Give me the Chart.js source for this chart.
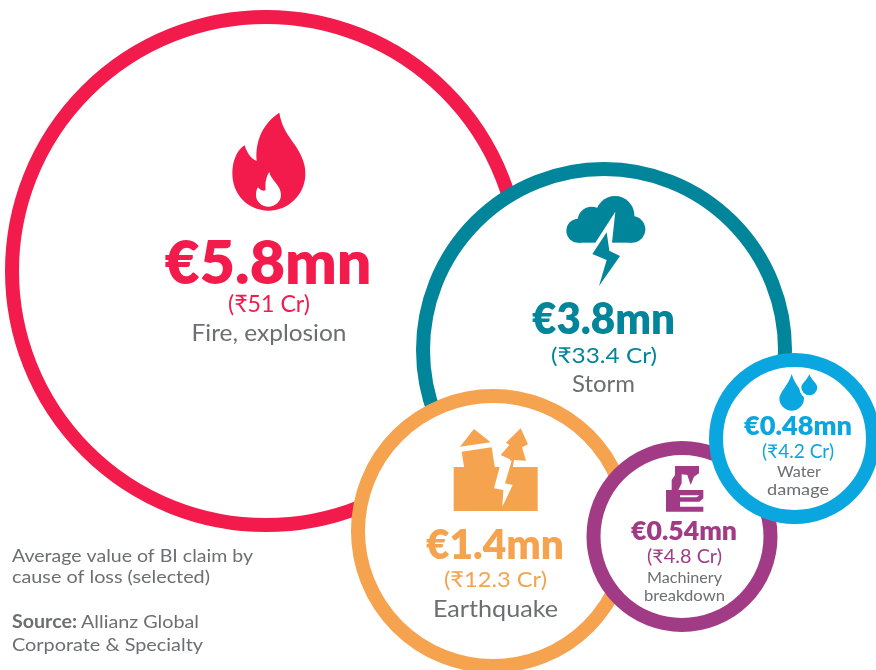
<!DOCTYPE html>
<html><head><meta charset="utf-8">
<style>html,body{margin:0;padding:0;background:#fff}#w{position:relative;width:876px;height:670px}</style>
<script src="https://cdn.jsdelivr.net/npm/chart.js@4"></script></head>
<body><div id="w"><canvas id="c" width="876" height="670"></canvas></div>
<script>
const categories = ["Fire, explosion","Storm","Earthquake","Machinery breakdown","Water damage"];
const claimLabels = ["€5.8mn","€3.8mn","€1.4mn","€0.54mn","€0.48mn"];
const rupeeLabels = ["(₹51 Cr)","(₹33.4 Cr)","(₹12.3 Cr)","(₹4.8 Cr)","(₹4.2 Cr)"];
const bubbleX = [266,604,493,682,794.5];
const bubbleY = [271,350,531,536.5,438.5];
const bubbleR = [254,181,135,88.5,78.5];
const colours = ["#f21b4b","#00859b","#f5a34f","#a23b85","#0aa6df"];
const GREY = "#6d6e71";
const FONT = '"Lato","Noto Sans",sans-serif';

function fit(ctx,text,cx,base,size,weight,width,color){
  ctx.save();
  ctx.font = weight+" "+size+"px "+FONT;
  ctx.fillStyle = color; ctx.textAlign="center"; ctx.textBaseline="alphabetic";
  const m = ctx.measureText(text).width;
  ctx.translate(cx,base); ctx.scale(width/m,1);
  ctx.fillText(text,0,0);
  ctx.restore();
}
function left(ctx,text,x,base,size,weight,width,color){
  ctx.save();
  ctx.font = weight+" "+size+"px "+FONT;
  ctx.fillStyle = color; ctx.textAlign="left"; ctx.textBaseline="alphabetic";
  const m = ctx.measureText(text).width;
  ctx.translate(x,base); ctx.scale(width/m,1);
  ctx.fillText(text,0,0);
  ctx.restore();
  return x+width;
}
function icon(ctx,ox,oy,fn){ctx.save();ctx.translate(ox,oy);ctx.scale(1/3,1/3);fn(ctx);ctx.restore();}
function poly(ctx,c,pts){ctx.fillStyle=c;ctx.beginPath();pts.forEach((p,i)=>i?ctx.lineTo(p[0],p[1]):ctx.moveTo(p[0],p[1]));ctx.closePath();ctx.fill();}
function drop(ctx,c,x,top,r,bottomY){
  const cy=bottomY-r;
  ctx.fillStyle=c;ctx.beginPath();ctx.moveTo(x,top);
  ctx.bezierCurveTo(x+r*0.25,top+(cy-top)*0.45,x+r,cy-r*0.45,x+r,cy);
  ctx.arc(x,cy,r,0,Math.PI);
  ctx.bezierCurveTo(x-r,cy-r*0.45,x-r*0.25,top+(cy-top)*0.45,x,top);
  ctx.closePath();ctx.fill();
}
const icons = [
 c=>{ c.fillStyle=colours[0];c.fill(new Path2D("M238 68C245 110 260 130 285 165C305 195 318 225 316 255C314 315 265 362 205 362C145 362 97 315 97 250C97 215 110 180 134 166C140 185 150 205 170 213C165 150 190 100 238 68Z"));
      c.fillStyle="#fff";c.fill(new Path2D("M208 246C212 270 243 285 243 315C243 335 225 350 205 350C185 350 168 335 168 315C168 305 170 298 174 292C180 300 190 305 197 300C195 280 198 260 208 246Z"));},
 c=>{ c.fillStyle=colours[1];
      [[205,152,36],[245,122,42],[315,106,58],[366,148,40]].forEach(a=>{c.beginPath();c.arc(a[0],a[1],a[2],0,7);c.fill();});
      c.fillRect(205,130,160,58);
      poly(c,"#fff",[[316,95],[256,188],[240,230],[340,230],[306,188]]);
      poly(c,colours[1],[[290,157],[247,222],[290,240],[267,318],[330,228],[298,212]]);},
 c=>{ const q=colours[2];
      poly(c,q,[[150,110],[192,57],[242,97]]);
      poly(c,q,[[155,125],[245,112],[255,175],[163,175]]);
      c.fillStyle=q;c.fillRect(131,171,252,132);
      poly(c,q,[[332,55],[354,103],[336,112],[348,152],[312,150],[308,175],[298,175],[300,148],[272,135],[298,105],[288,98]]);
      poly(c,"#fff",[[278,138],[252,235],[280,240],[277,290],[308,225],[285,220],[305,152],[290,150]]);},
 c=>{ const m=colours[3];
      poly(c,m,[[165,48],[237,48],[237,70],[222,80],[212,105],[202,75],[185,73],[185,100],[175,120],[250,120],[250,145],[238,155],[180,155],[180,170],[250,170],[250,185],[138,185],[138,120],[155,120],[155,90],[165,75]]);
      poly(c,"#fff",[[180,136],[238,136],[230,142],[180,142]]);},
 c=>{ drop(c,colours[4],185,42,37,152); c.fillStyle="#fff";c.beginPath();c.arc(238,85,30,0,7);c.fill(); drop(c,colours[4],238,42,24,106);}
];
const iconOrigin = [[200,90],[510,180],[410,410],[620,450],[730,360]];
const textRows = [
 [[0,268,284,61,800,207],[1,269,312,24,400,82,],[2,269,341,24,400,155,GREY]],
 [[0,603.5,334,43,800,143],[1,604,363,22,400,106],[2,603.5,392,23,400,63,GREY]],
 [[0,495,559,41,800,138],[1,495.5,587,22,400,103],[2,495.5,617,23,400,125,GREY]],
 [[0,684,540,26,800,106],[1,684.5,563,19,400,75],["Machinery",684.5,583,15,400,75,GREY],["breakdown",684.5,601,15,400,81,GREY]],
 [[0,798,435,26,800,108],[1,798,458,19,400,72],["Water",799,477,15,400,44,GREY],["damage",798,495,15,400,62,GREY]]
];
const overlay = {
 id:"overlay",
 afterDatasetsDraw(chart){
  const ctx=chart.ctx;
  categories.forEach((_,i)=>{
    icon(ctx,iconOrigin[i][0],iconOrigin[i][1],icons[i]);
    textRows[i].forEach(r=>{
      const t = r[0]===0?claimLabels[i]:r[0]===1?rupeeLabels[i]:r[0]===2?categories[i]:r[0];
      fit(ctx,t,r[1],r[2],r[3],r[4],r[5],r[6]||colours[i]);
    });
  });
  left(ctx,"Average value of BI claim by",12,562,18,400,241,GREY);
  left(ctx,"cause of loss (selected)",12,583,18,400,198,GREY);
  const e=left(ctx,"Source:",12,628,18,700,65,GREY);
  left(ctx,"Allianz Global",e+4,628,18,400,118,GREY);
  left(ctx,"Corporate & Specialty",12,651,18,400,191,GREY);
 }
};
new Chart(document.getElementById("c"),{
 type:"bubble",
 data:{datasets:[{label:"Average value of BI claim",
   data:categories.map((_,i)=>({x:bubbleX[i],y:bubbleY[i],r:bubbleR[i]})),
   backgroundColor:"#ffffff",borderColor:colours,borderWidth:14,hoverBorderWidth:14,clip:false}]},
 options:{responsive:false,animation:false,events:[],layout:{padding:0,autoPadding:false},
  plugins:{legend:{display:false},tooltip:{enabled:false}},
  scales:{x:{type:"linear",display:false,min:0,max:876},y:{type:"linear",display:false,min:0,max:670,reverse:true}}},
 plugins:[overlay]
});
</script></body></html>
